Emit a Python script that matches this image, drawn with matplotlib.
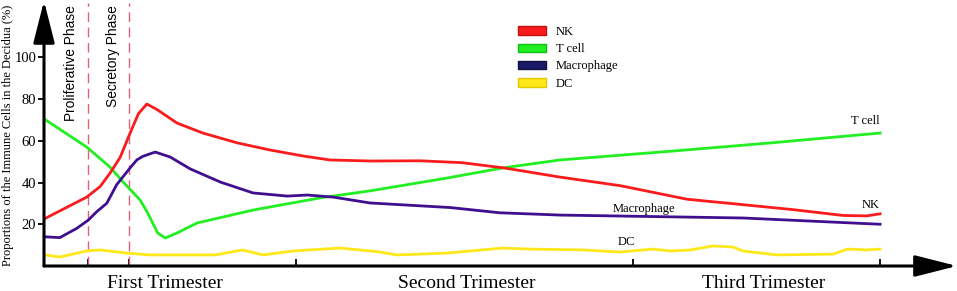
import matplotlib
matplotlib.use('Agg')
from matplotlib import pyplot as plt
from matplotlib.patches import Patch

# time axis: 0 = start of cycle, 100 = term (arbitrary units)
nk_t = [0, 5.1, 6.7, 7.9, 9.1, 10.3, 11.3, 12.3, 13.5, 15.9, 19.0, 23.1, 27.0, 31.0, 34.2,
        39.0, 45.0, 50.0, 55.0, 61.7, 68.9, 76.9, 83.3, 89.6, 95.6, 98.4, 100]
nk = [22.5, 33, 38, 44.5, 52, 63.7, 73, 77.6, 75, 68.5, 63.7, 59, 55.6, 52.7, 50.8,
      50.3, 50.4, 49.5, 47, 42.6, 38.5, 32, 29.5, 27, 24.2, 24, 25]

tcell_t = [0, 5.1, 7.9, 9.4, 11.5, 12.4, 13.6, 14.5, 15.9, 18.3, 25.0, 33.0, 39.0, 48.0,
           54.9, 61.7, 75.0, 87.0, 100]
tcell = [70.5, 57, 47.4, 40.5, 31.6, 25.4, 15.8, 13.4, 15.8, 20.6, 26.8, 32.6, 36, 42,
         47, 50.8, 55, 59, 63.7]

mac_t = [0, 1.9, 3.9, 5.3, 6.3, 7.5, 8.7, 10.3, 11.1, 11.8, 13.3, 15.1, 17.5, 21.1, 25.0,
         29.1, 31.5, 34.6, 39.0, 48.6, 54.5, 61.7, 83.6, 100]
mac = [14, 13.6, 18, 22, 26, 30, 39, 47, 50.8, 52.5, 54.6, 52.2, 46.5, 40.2, 35,
       33.5, 34, 33, 30.2, 28, 25.5, 24.4, 23, 20]

dc_t = [0, 1.9, 5.1, 6.7, 9.9, 12.7, 20.5, 23.7, 26.2, 29.8, 35.4, 40.0, 42.2, 48.2, 54.9,
        58.1, 64.5, 68.9, 72.8, 74.9, 77.3, 80.0, 82.4, 83.6, 87.7, 94.4, 96.1, 98.4, 100]
dc = [5.4, 4.3, 7.2, 7.7, 6.2, 5.3, 5.3, 7.7, 5.3, 7.2, 8.6, 6.8, 5.3, 6.2, 8.6,
      8.1, 7.7, 6.7, 8.1, 7.2, 7.7, 9.6, 9.1, 7.2, 5.3, 5.7, 8.1, 7.7, 8.1]

phase_lines = [5.26, 10.17]
phase_names = ['Proliferative Phase', 'Secretory Phase']
phase_label_x = [2.9, 7.9]
tick_t = [5.26, 10.17, 30.2, 70.5, 100]
trimesters = ['First Trimester', 'Second Trimester', 'Third Trimester']
trimester_x = [14.5, 50.6, 86.1]

red = '#fa1c1c'
green = '#22ef22'
purple = '#3f0f8f'
navy = '#1a1a66'
yellow = '#ffe81a'

serif = 'Liberation Serif'

fig = plt.figure(figsize=(9.57, 2.91), dpi=100)
ax = fig.add_axes([44 / 957, 25 / 291, 913 / 957, 263 / 291])
ax.set_xlim(0, 109.2)
ax.set_ylim(0, 126)
for s in ax.spines.values():
    s.set_visible(False)

# axes with arrow heads
arrow = dict(arrowstyle='-|>,head_length=2.6,head_width=0.66', mutation_scale=10,
             lw=2.2, color='black', shrinkA=0, shrinkB=0)
ax.annotate('', xy=(109.2, 0), xytext=(0, 0), arrowprops=arrow, annotation_clip=False)
ax.annotate('', xy=(0, 127), xytext=(0, 0), arrowprops=arrow, annotation_clip=False)

for x in phase_lines:
    ax.plot([x, x], [0, 126], color='#e0607a', lw=1, dashes=(7, 4))
for x, name in zip(phase_label_x, phase_names):
    ax.text(x + 0.3, 125, name, rotation=90, va='top', ha='center', fontsize=9.9,
            family='Liberation Sans')

ax.plot(dc_t, dc, color=yellow, lw=2)
ax.plot(tcell_t, tcell, color=green, lw=2)
ax.plot(mac_t, mac, color=purple, lw=2)
ax.plot(nk_t, nk, color=red, lw=2)

ax.text(100, 69.5, 'T cell', ha='right', va='center', fontsize=9, family=serif)
ax.text(100, 29.2, 'NK', ha='right', va='center', fontsize=9, family=serif)
ax.text(71.7, 27.3, 'Macrophage', ha='center', va='center', fontsize=9, family=serif)
ax.text(69.7, 11.5, 'DC', ha='center', va='center', fontsize=9, family=serif)

ax.set_xticks(tick_t)
ax.set_xticklabels([])
ax.tick_params(axis='x', direction='in', length=5, width=1.3, color='black')
ax.set_yticks([20, 40, 60, 80, 100])
ax.set_yticklabels(['20', '40', '60', '80', '100'], family=serif, fontsize=10.5)
ax.tick_params(axis='y', direction='out', length=4.5, width=1.3, pad=1)

for x, name in zip(trimester_x, trimesters):
    ax.text(x, -8.3, name, ha='center', va='center', fontsize=14, family=serif,
            clip_on=False)

fig.text(8 / 957, 1 - 135 / 291, 'Proportions of the Immune Cells in the Decidua (%)',
         rotation=90, ha='center', va='center', fontsize=9, family=serif)

handles = [Patch(facecolor=red, edgecolor='#c01010', label='NK'),
           Patch(facecolor=green, edgecolor='#10c010', label='T cell'),
           Patch(facecolor=navy, edgecolor='#101040', label='Macrophage'),
           Patch(facecolor=yellow, edgecolor='#e0c800', label='DC')]
fig.legend(handles=handles, loc='upper left', bbox_to_anchor=(518 / 957, 1 - 26 / 291),
           frameon=False, borderpad=0, borderaxespad=0, handlelength=2.2,
           handleheight=0.65, handletextpad=0.8, labelspacing=0.42,
           prop={'family': serif, 'size': 9})

fig.savefig('out.png', dpi=100)
